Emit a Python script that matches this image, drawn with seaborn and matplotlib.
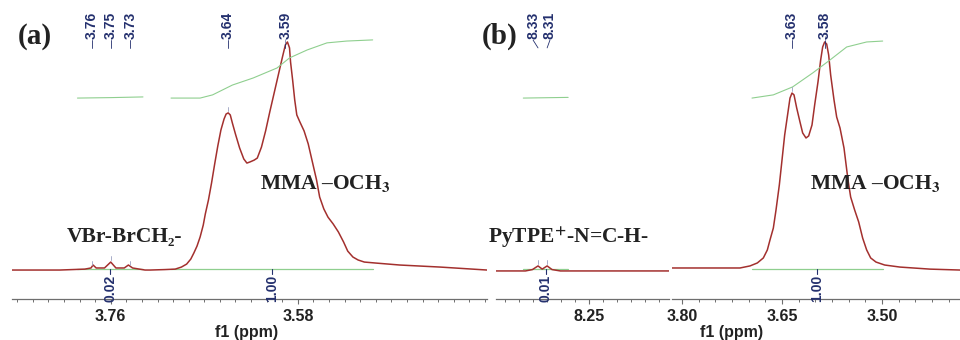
import matplotlib
matplotlib.use("Agg")
import matplotlib.pyplot as plt
import matplotlib.ticker as mticker
import numpy as np
import pandas as pd
import seaborn as sns

# spectrum (a): chemical shift (ppm) and relative intensity (main peak = 100)
a_ppm = [3.855, 3.809, 3.785, 3.779, 3.777, 3.774, 3.766, 3.760, 3.755, 3.747,
         3.743, 3.739, 3.727, 3.722, 3.708, 3.698, 3.692, 3.687, 3.683, 3.680,
         3.677, 3.674, 3.671, 3.669, 3.666, 3.663, 3.660, 3.657, 3.654, 3.651,
         3.649, 3.647, 3.645, 3.643, 3.640, 3.636, 3.632, 3.629, 3.626, 3.622,
         3.619, 3.615, 3.611, 3.607, 3.603, 3.599, 3.595, 3.592, 3.590, 3.588,
         3.587, 3.585, 3.583, 3.581, 3.578, 3.574, 3.570, 3.566, 3.562, 3.559,
         3.555, 3.551, 3.546, 3.541, 3.536, 3.532, 3.527, 3.522, 3.516, 3.506,
         3.482, 3.443, 3.398]
a_int = [0.0, 0.0, 0.4, 0.9, 2.2, 0.9, 0.9, 3.5, 0.9, 0.9,
         2.2, 0.9, 0.0, 0.0, 0.2, 0.4, 1.3, 2.6, 4.8, 7.5,
         10.5, 14.5, 19.7, 24.6, 30.7, 38.2, 46.5, 54.4, 61.4, 66.2,
         68.4, 68.9, 68.0, 64.5, 59.6, 53.5, 48.7, 46.9, 47.4, 48.2,
         49.1, 53.9, 61.0, 69.3, 77.2, 85.1, 93.0, 98.7, 100.0, 97.4,
         91.2, 83.3, 74.6, 68.0, 64.9, 61.0, 55.3, 47.4, 39.5, 32.0,
         26.8, 23.2, 20.2, 16.7, 12.3, 8.3, 5.7, 4.4, 3.5, 3.1,
         2.2, 1.3, 0.0]

# spectrum (b), low-field window and high-field window
b1_ppm = [8.383, 8.341, 8.331, 8.323, 8.317, 8.310, 8.303, 8.291, 8.136]
b1_int = [-0.4, -0.4, 0.2, 1.8, 0.4, 1.8, 0.2, -0.4, -0.4]
b2_ppm = [3.815, 3.773, 3.743, 3.713, 3.698, 3.687, 3.678, 3.672, 3.668, 3.663,
          3.659, 3.654, 3.650, 3.646, 3.641, 3.638, 3.635, 3.632, 3.628, 3.623,
          3.619, 3.614, 3.610, 3.605, 3.601, 3.596, 3.592, 3.589, 3.586, 3.583,
          3.580, 3.577, 3.572, 3.568, 3.563, 3.557, 3.551, 3.547, 3.541, 3.535,
          3.529, 3.523, 3.517, 3.509, 3.496, 3.473, 3.428, 3.383]
b2_int = [0.9, 0.9, 0.9, 0.9, 1.8, 3.1, 5.3, 8.8, 13.2, 18.4,
          26.3, 37.3, 48.2, 59.2, 69.3, 75.4, 77.6, 76.8, 71.1, 64.9,
          60.1, 57.9, 58.8, 63.6, 72.4, 82.5, 92.1, 97.8, 100.0, 99.1,
          94.3, 85.5, 74.6, 67.1, 62.3, 53.5, 39.5, 32.0, 26.3, 21.1,
          14.0, 8.8, 5.3, 3.5, 2.2, 1.3, 0.4, 0.0]

# integral curves
a_intg1_ppm = [3.792, 3.760, 3.729]
a_intg1_val = [75.4, 75.6, 75.9]
a_intg2_ppm = [3.702, 3.674, 3.662, 3.643, 3.623, 3.600, 3.588, 3.571, 3.552, 3.533, 3.508]
a_intg2_val = [75.4, 75.4, 76.8, 81.1, 84.2, 88.6, 93.0, 96.5, 99.6, 100.4, 100.9]
b1_intg_ppm = [8.344, 8.280]
b1_intg_val = [75.4, 75.7]
b2_intg_ppm = [3.695, 3.663, 3.634, 3.604, 3.578, 3.553, 3.523, 3.499]
b2_intg_val = [75.4, 76.8, 80.3, 86.4, 92.1, 97.8, 100.0, 100.4]

# integration ranges and values
a_ranges = [(3.792, 3.729), (3.702, 3.508)]
a_range_labels = ["0.02", "1.00"]
b1_ranges = [(8.344, 8.280)]
b1_range_labels = ["0.01"]
b2_ranges = [(3.695, 3.499)]
b2_range_labels = ["1.00"]

# peak picking labels
a_peak_ppm = [3.778, 3.760, 3.741, 3.647, 3.592]
a_peak_labels = ["3.76", "3.75", "3.73", "3.64", "3.59"]
b1_peak_ppm = [8.330, 8.306]
b1_peak_true = [8.323, 8.310]
b1_peak_labels = ["8.33", "8.31"]
b2_peak_ppm = [3.635, 3.586]
b2_peak_labels = ["3.63", "3.58"]

sns.set_style("white")
plt.rcParams['font.family'] = ['Liberation Sans', 'DejaVu Sans']
plt.rcParams['mathtext.fontset'] = 'stix'

RED = '#a3302e'
GREEN = '#8fcf8f'
NAVY = '#24306e'
AXC = '#6e6e6e'
SERIF = ['Liberation Serif', 'DejaVu Serif']

W, H = 960, 340
fig = plt.figure(figsize=(9.6, 3.4), dpi=100)
bot = (H - 299) / H
hgt = 1 - bot


def make_ax(x0, x1, xlim):
    ax = fig.add_axes([x0 / W, bot, (x1 - x0) / W, hgt])
    ax.set_xlim(*xlim)
    ax.set_ylim(-12.7, 118.4)
    for s in ['left', 'right', 'top']:
        ax.spines[s].set_visible(False)
    ax.spines['bottom'].set_color(AXC)
    ax.spines['bottom'].set_linewidth(0.9)
    ax.set_yticks([])
    ax.patch.set_alpha(0)
    return ax


def draw(ax, ppm, inten, intg, ranges, range_labels, peaks, peak_labels, peak_true=None):
    df = pd.DataFrame({'ppm': ppm, 'int': inten})
    sns.lineplot(data=df, x='ppm', y='int', sort=False, estimator=None,
                 color=RED, linewidth=1.1, ax=ax)
    for px, pv in intg:
        sns.lineplot(x=px, y=pv, sort=False, estimator=None, color=GREEN,
                     linewidth=0.8, ax=ax)
    for (r0, r1), lab in zip(ranges, range_labels):
        ax.plot([r0, r1], [0.4, 0.4], color=GREEN, lw=0.9, zorder=1)
        mid = (r0 + r1) / 2
        ax.plot([mid, mid], [0.4, -1.6], color=NAVY, lw=0.8)
        ax.text(mid, -2.2, lab, rotation=90, ha='center', va='top',
                color=NAVY, fontsize=10, fontweight='bold')
    if peak_true is None:
        peak_true = peaks
    for p, t, lab in zip(peaks, peak_true, peak_labels):
        ax.text(p, 101.5, lab, rotation=90, ha='center', va='bottom',
                color=NAVY, fontsize=10, fontweight='bold')
        ax.plot([p, t], [100.8, 97.4], color=NAVY, lw=0.6)
        top = np.interp(t, ppm[::-1], inten[::-1])
        ax.plot([t, t], [top + 0.8, top + 2.6], color='#9aa0c0', lw=0.6)
    ax.set_xlabel('')
    ax.set_ylabel('')
    ax.tick_params(axis='x', which='both', bottom=True, direction='out')
    ax.tick_params(axis='x', which='major', length=3.5, width=0.8, color=AXC,
                   pad=3.5, labelsize=11.5)
    ax.tick_params(axis='x', which='minor', length=2.5, width=0.7, color=AXC)


ax_a = make_ax(12, 487, (3.855, 3.398))
ax_a.set_xticks([3.76, 3.58])
ax_a.xaxis.set_minor_locator(mticker.MultipleLocator(0.015, offset=0.01))
draw(ax_a, a_ppm, a_int, [(a_intg1_ppm, a_intg1_val), (a_intg2_ppm, a_intg2_val)],
     a_ranges, a_range_labels, a_peak_ppm, a_peak_labels)

ax_b1 = make_ax(496, 669, (8.383, 8.136))
ax_b1.set_xticks([8.25])
ax_b1.xaxis.set_minor_locator(mticker.MultipleLocator(0.02, offset=0.01))
draw(ax_b1, b1_ppm, b1_int, [(b1_intg_ppm, b1_intg_val)], b1_ranges,
     b1_range_labels, b1_peak_ppm, b1_peak_labels, b1_peak_true)

ax_b2 = make_ax(672, 960, (3.815, 3.383))
ax_b2.set_xticks([3.80, 3.65, 3.50])
ax_b2.xaxis.set_minor_locator(mticker.MultipleLocator(0.025))
draw(ax_b2, b2_ppm, b2_int, [(b2_intg_ppm, b2_intg_val)], b2_ranges,
     b2_range_labels, b2_peak_ppm, b2_peak_labels)

for ax in (ax_a, ax_b1, ax_b2):
    ax.xaxis.set_major_formatter(mticker.FormatStrFormatter('%.2f'))
    for t in ax.get_xticklabels():
        t.set_fontweight('bold')
        t.set_color('#222222')


def ftext(x, y, s, **kw):
    fig.text(x / W, 1 - y / H, s, **kw)


ftext(35, 36, '(a)', family=SERIF, fontweight='bold', fontsize=21,
      ha='center', va='center', color='#222222')
ftext(500, 36, '(b)', family=SERIF, fontweight='bold', fontsize=21,
      ha='center', va='center', color='#222222')
ftext(260, 183, r'MMA –OCH$_{\mathbf{3}}$', family=SERIF, fontweight='bold',
      fontsize=15.5, ha='left', va='center', color='#222222')
ftext(810, 183, r'MMA –OCH$_{\mathbf{3}}$', family=SERIF, fontweight='bold',
      fontsize=15.5, ha='left', va='center', color='#222222')
ftext(124, 237, 'VBr-BrCH₂-', family=SERIF, fontweight='bold',
      fontsize=15.5, ha='center', va='center', color='#222222')
ftext(569, 237, r'PyTPE$^{\mathbf{+}}$-N=C-H-', family=SERIF, fontweight='bold',
      fontsize=15.5, ha='center', va='center', color='#222222')
ftext(247, 332, 'f1 (ppm)', fontweight='bold', fontsize=11.5,
      ha='center', va='center', color='#222222')
ftext(732, 332, 'f1 (ppm)', fontweight='bold', fontsize=11.5,
      ha='center', va='center', color='#222222')

fig.savefig('out.png', dpi=100)
